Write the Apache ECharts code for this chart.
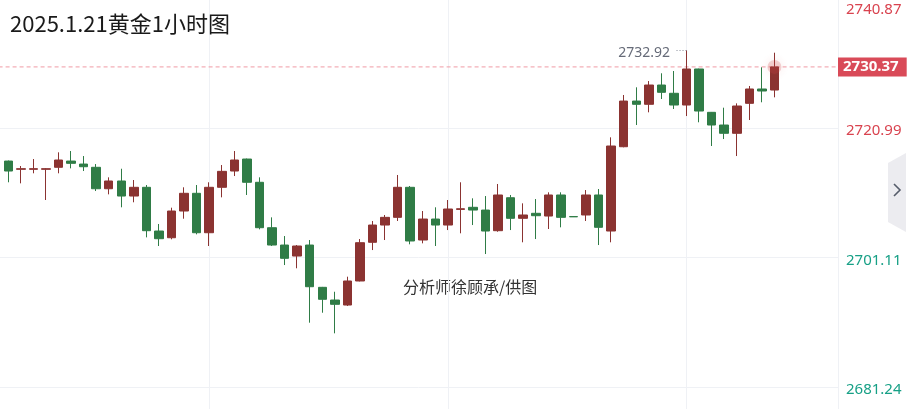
<!DOCTYPE html>
<html><head><meta charset="utf-8">
<script src="https://cdn.jsdelivr.net/npm/echarts@6/dist/echarts.min.js"></script>
<style>html,body{margin:0;padding:0;background:#fff}#c{width:909px;height:409px}</style>
</head><body><div id="c"></div>
<script>
const titleText = '2025.1.21黄金1小时图';
const watermarkText = '分析师徐顾承/供图';
const opens  = [2715.46,2715.92,2714.65,2714.65,2714.65,2714.96,2715.92,2715.46,2714.96,2711.67,2712.86,2710.55,2711.89,2705.18,2704.15,2708.25,2710.97,2704.92,2711.89,2714.39,2716.23,2712.66,2705.69,2703.03,2701.34,2703.03,2696.54,2694.59,2693.82,2697.51,2703.45,2706.10,2707.28,2711.89,2703.80,2707.02,2706.10,2708.50,2708.82,2708.40,2705.23,2710.29,2707.13,2707.90,2707.48,2710.71,2707.40,2707.64,2710.71,2705.18,2718.12,2725.13,2724.63,2727.59,2726.32,2724.52,2730.05,2723.40,2721.45,2720.18,2724.78,2726.98,2726.82];
const closes = [2716.08,2714.39,2714.75,2714.75,2714.75,2716.08,2715.57,2715.05,2711.67,2712.86,2710.55,2711.89,2705.23,2704.00,2708.25,2710.97,2704.92,2711.89,2714.34,2716.08,2712.66,2705.69,2703.03,2700.99,2702.88,2696.63,2694.70,2693.93,2697.51,2703.39,2706.10,2707.28,2711.89,2703.65,2707.02,2706.10,2708.56,2708.60,2708.40,2705.18,2710.71,2707.13,2707.64,2707.53,2710.71,2707.28,2707.36,2710.71,2705.75,2718.23,2725.13,2724.63,2727.59,2726.47,2724.52,2730.05,2723.60,2721.45,2720.18,2724.37,2726.98,2726.67,2730.37];
const lows   = [2714.85,2712.66,2712.50,2714.04,2709.94,2714.04,2714.80,2714.39,2711.32,2710.81,2708.82,2709.59,2704.21,2702.88,2703.91,2707.07,2704.67,2702.88,2710.35,2713.62,2710.71,2705.44,2702.88,2699.96,2699.46,2691.11,2692.64,2689.48,2693.67,2697.45,2702.26,2703.80,2706.72,2703.14,2703.29,2702.88,2705.33,2704.83,2706.10,2701.65,2705.07,2705.33,2703.45,2703.95,2705.49,2705.75,2707.36,2706.72,2703.03,2703.45,2718.03,2721.45,2723.40,2725.44,2723.91,2722.83,2721.87,2718.23,2719.30,2716.69,2722.22,2724.94,2725.70];
const highs  = [2716.54,2716.00,2715.16,2716.23,2714.85,2717.26,2717.46,2716.69,2715.46,2713.42,2714.74,2713.01,2712.24,2706.26,2708.76,2711.89,2712.24,2712.66,2715.31,2717.46,2716.30,2713.42,2707.28,2704.41,2703.03,2703.80,2696.60,2695.86,2698.17,2703.95,2706.72,2707.64,2713.78,2712.09,2708.25,2708.82,2709.94,2712.66,2710.20,2710.55,2712.40,2710.71,2709.43,2710.09,2711.12,2711.12,2707.40,2711.47,2711.63,2719.56,2726.06,2727.24,2728.20,2729.39,2729.74,2732.92,2730.10,2723.45,2724.11,2724.78,2727.44,2730.31,2732.55];
const tickLabels = ['2681.24','2701.11','2720.99','2740.87'];
const tickColors = ['g','g','r','rt'];

const UP = '#8b3331', DOWN = '#2f7c46', PINK = '#f09aa4';
const X_MIN = -2, X_MAX = 67.06;
const data = opens.map((o,i)=>[i, o, closes[i], lows[i], highs[i]]);
let maxIdx = 0; highs.forEach((h,i)=>{ if(h>highs[maxIdx]) maxIdx=i; });
const last = closes.length-1;
const yMax = +tickLabels[3], yStep = (yMax - (+tickLabels[0]))/3, yMin = +tickLabels[0]-yStep;

const chart = echarts.init(document.getElementById('c'), null, {renderer:'canvas'});
chart.setOption({
  animation:false,
  backgroundColor:'#fff',
  title:{text:titleText,left:10,top:13,padding:0,textStyle:{fontSize:22,fontWeight:'normal',color:'#1a1a1a',fontFamily:'Noto Sans CJK SC'}},
  grid:{left:-29.42,right:71,top:-1.5,bottom:-107.5,containLabel:false,outerBoundsMode:'none'},
  xAxis:{type:'value',min:X_MIN,max:X_MAX,interval:19,
    axisLine:{show:false},axisTick:{show:false},axisLabel:{show:false},
    splitLine:{show:true,lineStyle:{color:'#eff1f5',width:1}}},
  yAxis:{type:'value',position:'right',min:yMin,max:yMax,interval:yStep,scale:true,
    axisLine:{show:true,lineStyle:{color:'#e9eaf0'}},axisTick:{show:false},
    splitLine:{show:true,lineStyle:{color:'#eff1f5',width:1}},
    axisLabel:{show:true,margin:8,
      formatter:function(v){
        let best=-1,bd=1e9; tickLabels.forEach((t,i)=>{const d=Math.abs(+t-v); if(d<bd){bd=d;best=i;}});
        if(bd>0.05) return '';
        return '{'+tickColors[best]+'|'+tickLabels[best]+'}';
      },
      rich:{
        r:{color:'#d9434f',fontSize:15,fontFamily:'Noto Sans',padding:[6,0,0,0]},
        g:{color:'#17a086',fontSize:15,fontFamily:'Noto Sans',padding:[6,0,0,0]},
        rt:{color:'#d9434f',fontSize:15,fontFamily:'Noto Sans',padding:[23,0,0,0]}
      }}},
  series:[{
    type:'line',
    z:1,
    silent:true,
    data:[[X_MIN,closes[last]],[X_MAX,closes[last]]],
    symbol:'none',
    color:PINK,
    lineStyle:{color:PINK,type:[4,3],width:1},
    endLabel:{show:true,distance:0,formatter:closes[last].toFixed(2),
      backgroundColor:'#d94a58',color:'#fff',fontWeight:'bold',fontSize:15,fontFamily:'Noto Sans',padding:[2,8,2,5]}
  },{
    type:'candlestick',
    z:2,
    data:data,
    encode:{x:0,y:[1,2,3,4]},
    barWidth:9,
    itemStyle:{color:UP,color0:DOWN,borderColor:UP,borderColor0:DOWN,borderWidth:1},
    markLine:{silent:true,symbol:['none','none'],
      lineStyle:{color:'#8a8f9c',type:[1,2],width:1},
      data:[
        [{coord:[maxIdx,highs[maxIdx]],label:{show:false}},
         {coord:[maxIdx-0.95,highs[maxIdx]]}]
      ]},
    markPoint:{silent:true,
      data:[
        {coord:[maxIdx,highs[maxIdx]],symbol:'circle',symbolSize:1,itemStyle:{color:'rgba(0,0,0,0)'},
         label:{show:true,position:'left',distance:16,offset:[0,3],formatter:highs[maxIdx].toFixed(2),color:'#666b78',fontSize:14,fontFamily:'Noto Sans'}},
        {coord:[last,closes[last]],symbol:'circle',symbolSize:14,
         itemStyle:{color:'rgba(205,70,70,0.22)',shadowBlur:8,shadowColor:'rgba(205,60,60,0.5)'},label:{show:false}}
      ]}
  }],
  graphic:[
    {type:'text',left:403,top:279,style:{text:watermarkText,fontSize:16,fill:'#333',fontFamily:'Noto Sans CJK SC'}},
    {type:'polygon',shape:{points:[[888,163],[906,153],[906,232],[888,222]]},style:{fill:'#ececf0'}},
    {type:'polyline',shape:{points:[[894,184],[900,190],[894,196]]},style:{stroke:'#555c6a',lineWidth:1.6,fill:null}}
  ]
});
</script></body></html>
